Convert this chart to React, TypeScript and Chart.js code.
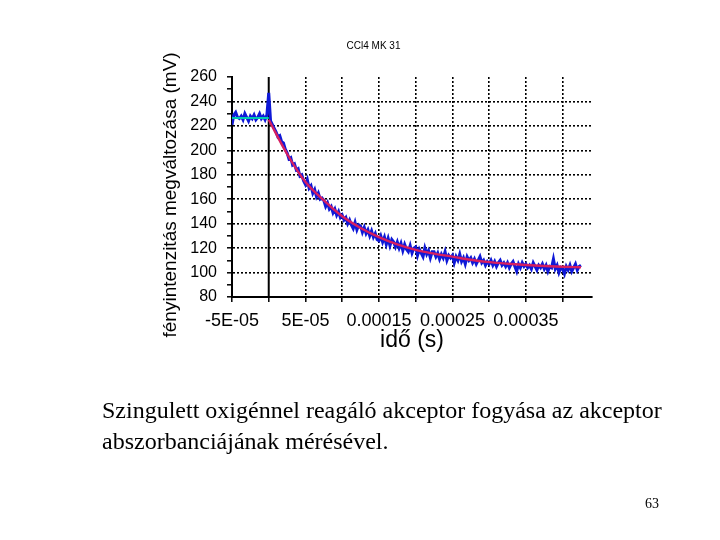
import React, { useEffect, useRef } from "react";
import { Chart, registerables } from "chart.js";

Chart.register(...registerables);

// Measured signal (blue): sampled every 2.5E-06 s starting at -5E-05 s
const SAMPLE_START = -5e-5;
const SAMPLE_STEP = 2.5e-6;
const signalValues = [
  221, 229, 231, 227, 226, 228, 225, 230, 227, 224, 228, 226, 229, 225, 227, 230, 226, 228, 225, 229,
  247, 224, 221, 218, 215, 211, 212, 207, 206, 201,
  198, 193, 194, 188, 189, 184, 185, 179, 180, 175,
  172, 176, 169, 171, 165, 168, 162, 165, 160, 161,
  159, 154, 157, 152, 154, 149, 152, 147, 150, 145,
  147, 143, 145, 140, 143, 139, 136, 141, 135, 139,
  138, 133, 137, 132, 135, 130, 134, 129, 132, 127,
  126, 130, 125, 129, 123, 128, 122, 127, 125, 121,
  125, 120, 124, 118, 123, 119, 117, 122, 116, 120,
  121, 114, 119, 116, 113, 120, 115, 118, 112, 117,
  117, 113, 116, 111, 115, 112, 117, 110, 114, 112,
  114, 108, 113, 110, 115, 109, 112, 107, 113, 110,
  112, 108, 111, 107, 110, 113, 108, 110, 106, 109,
  107, 110, 106, 109, 105, 108, 110, 106, 108, 105,
  108, 104, 107, 109, 105, 101, 107, 104, 108, 105,
  107, 104, 106, 103, 108, 105, 102, 106, 104, 107,
  103, 106, 101, 105, 104, 111, 103, 106, 100, 104,
  103, 99, 105, 102, 106, 101, 104, 107, 102, 105, 106,
];

// Fitted decay curve (red)
const fitTimes = [
  0, 2.5e-5, 5e-5, 7.5e-5, 1e-4, 1.25e-4, 1.5e-4, 1.75e-4, 2e-4, 2.25e-4,
  2.5e-4, 2.75e-4, 3e-4, 3.25e-4, 3.5e-4, 3.75e-4, 4e-4, 4.25e-4,
];
const fitValues = [
  225, 197, 174, 159, 146, 136.5, 129, 123, 118.5, 115.5,
  113, 110.5, 108.5, 107.2, 106.2, 105.4, 104.8, 104.3,
];

// Baseline before the flash (cyan)
const baselineTimes = [-5e-5, 0];
const baselineValues = [226.5, 226.5];

// Vertical line at t = 0
const zeroLineTimes = [0, 0];
const zeroLineValues = [80, 260];

// Axis tick labels
const xLabelValues = [-5e-5, 5e-5, 1.5e-4, 2.5e-4, 3.5e-4];
const xLabelTexts = ["-5E-05", "5E-05", "0.00015", "0.00025", "0.00035"];
const yLabelValues = [80, 100, 120, 140, 160, 180, 200, 220, 240, 260];

const SANS = "'Liberation Sans', Arial, sans-serif";
const SERIF = "'Liberation Serif', 'Times New Roman', serif";

export default function App() {
  const canvasRef = useRef<HTMLCanvasElement | null>(null);

  useEffect(() => {
    if (!canvasRef.current) return;
    const signal = signalValues.map((v, i) => ({ x: SAMPLE_START + i * SAMPLE_STEP, y: v }));
    const fit = fitValues.map((v, i) => ({ x: fitTimes[i], y: v }));
    const base = baselineValues.map((v, i) => ({ x: baselineTimes[i], y: v }));
    const zero = zeroLineValues.map((v, i) => ({ x: zeroLineTimes[i], y: v }));

    const chart = new Chart(canvasRef.current, {
      type: "line",
      data: {
        datasets: [
          {
            label: "baseline",
            data: base,
            borderColor: "rgb(0,200,180)",
            borderWidth: 2,
            pointRadius: 0,
            fill: false,
          },
          {
            label: "fit",
            data: fit,
            borderColor: "rgb(214,30,96)",
            borderWidth: 2.4,
            pointRadius: 0,
            cubicInterpolationMode: "monotone",
            fill: false,
          },
          {
            label: "signal",
            data: signal,
            borderColor: "rgb(15,25,215)",
            borderWidth: 3,
            pointRadius: 0,
            tension: 0,
            fill: false,
          },
          {
            label: "zero",
            data: zero,
            borderColor: "#000",
            borderWidth: 2,
            pointRadius: 0,
            fill: false,
          },
        ],
      },
      options: {
        responsive: false,
        animation: false,
        layout: { padding: { left: 155, right: 128, top: 30, bottom: 182 } },
        plugins: {
          legend: { display: false },
          tooltip: { enabled: false },
          title: {
            display: true,
            text: "CCl4 MK 31",
            color: "#000",
            font: { family: SANS, size: 10, weight: "normal" },
            padding: { top: 10, bottom: 25 },
          },
        },
        scales: {
          x: {
            type: "linear",
            min: -5e-5,
            max: 4.4e-4,
            afterFit: (scale: any) => {
              scale.height = 61;
            },
            ticks: {
              stepSize: 5e-5,
              includeBounds: false,
              autoSkip: false,
              maxRotation: 0,
              padding: 8,
              color: "#000",
              font: { family: SANS, size: 18 },
              callback: (value: any) => {
                const k = xLabelValues.findIndex((v) => Math.abs(v - Number(value)) < 1e-9);
                return k >= 0 ? xLabelTexts[k] : "";
              },
            },
            grid: {
              color: (ctx: any) =>
                ctx.tick && Math.abs(ctx.tick.value) > 1e-9 && ctx.tick.value > -4e-5 ? "#000" : "rgba(0,0,0,0)",
              lineWidth: 1.6,
              drawTicks: true,
              tickLength: 5,
              tickColor: "#000",
              tickWidth: 1.5,
            },
            border: { display: true, color: "#000", width: 2, dash: [2, 2] },
            title: {
              display: true,
              text: "idő (s)",
              color: "#000",
              font: { family: SANS, size: 23 },
              padding: { top: 4, bottom: 4 },
            },
          },
          y: {
            type: "linear",
            min: 80,
            max: 260,
            afterFit: (scale: any) => {
              scale.width = 77;
            },
            ticks: {
              stepSize: 10,
              autoSkip: false,
              padding: 10,
              color: "#000",
              font: { family: SANS, size: 16 },
              callback: (value: any) => (yLabelValues.includes(Number(value)) ? String(value) : ""),
            },
            grid: {
              color: (ctx: any) => {
                const v = ctx.tick ? ctx.tick.value : 0;
                return v > 80 && v < 260 && v % 20 === 0 ? "#000" : "rgba(0,0,0,0)";
              },
              lineWidth: 1.6,
              drawTicks: true,
              tickLength: 5,
              tickColor: "#000",
              tickWidth: 1.5,
            },
            border: { display: true, color: "#000", width: 2, dash: [2, 2] },
            title: {
              display: true,
              text: "fényintenzitás megváltozása (mV)   ",
              color: "#000",
              font: { family: SANS, size: 19 },
              padding: { top: 4, bottom: 4 },
            },
          },
        },
      },
    });
    return () => chart.destroy();
  }, []);

  return (
    <div style={{ position: "absolute", left: 0, top: 0, width: 720, height: 540, background: "#fff" }}>
      <canvas
        ref={canvasRef}
        width={720}
        height={540}
        style={{ position: "absolute", left: 0, top: 0, width: 720, height: 540 }}
      />
      <div
        style={{
          position: "absolute",
          left: 102,
          top: 395,
          fontFamily: SERIF,
          fontSize: 24,
          lineHeight: "31px",
          color: "#000",
          whiteSpace: "nowrap",
        }}
      >
        Szingulett oxigénnel reagáló akceptor fogyása az akceptor
        <br />
        abszorbanciájának mérésével.
      </div>
      <div
        style={{
          position: "absolute",
          left: 645,
          top: 496,
          fontFamily: SERIF,
          fontSize: 14,
          lineHeight: "16px",
          color: "#000",
        }}
      >
        63
      </div>
    </div>
  );
}
